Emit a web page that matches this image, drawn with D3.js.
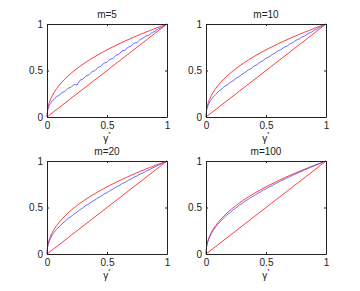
<!DOCTYPE html>
<html>
<head>
<meta charset="utf-8">
<script src="https://cdn.jsdelivr.net/npm/d3@7"></script>
<style>
  body { margin: 0; background: #fff; }
  svg text { font-family: "Liberation Sans", Arial, sans-serif; fill: #222; }
</style>
</head>
<body>
<div id="chart"></div>
<script>
// gamma* sample points (shared x grid)
const gammaGrid = [0, 0.005, 0.01, 0.02, 0.03, 0.045, 0.06, 0.08,
  0.1, 0.125, 0.15, 0.175, 0.2, 0.225, 0.25, 0.275, 0.3, 0.325, 0.35, 0.375,
  0.4, 0.425, 0.45, 0.475, 0.5, 0.525, 0.55, 0.575, 0.6, 0.625, 0.65, 0.675,
  0.7, 0.725, 0.75, 0.775, 0.8, 0.825, 0.85, 0.875, 0.9, 0.925, 0.95, 0.975, 1];

// upper red bound (same in every panel)
const upperBound = [0, 0.083, 0.115, 0.159, 0.192, 0.233, 0.267, 0.305,
  0.339, 0.376, 0.41, 0.441, 0.469, 0.496, 0.521, 0.545, 0.568, 0.59, 0.611, 0.631,
  0.65, 0.669, 0.687, 0.705, 0.722, 0.739, 0.755, 0.771, 0.787, 0.802, 0.817, 0.831,
  0.846, 0.86, 0.874, 0.887, 0.9, 0.914, 0.926, 0.939, 0.952, 0.964, 0.976, 0.988, 1];

// lower red bound (diagonal)
const lowerX = [0, 1];
const lowerY = [0, 1];

// blue curves, one per panel
const curveM5 = [0, 0.067, 0.09, 0.128, 0.144, 0.178, 0.19, 0.22,
  0.232, 0.262, 0.276, 0.31, 0.318, 0.352, 0.343, 0.395, 0.408, 0.441, 0.455, 0.488,
  0.498, 0.534, 0.546, 0.58, 0.588, 0.622, 0.628, 0.665, 0.675, 0.712, 0.718, 0.75,
  0.762, 0.794, 0.8, 0.832, 0.848, 0.87, 0.88, 0.909, 0.92, 0.948, 0.958, 0.982, 1];
const curveM10 = [0, 0.071, 0.1, 0.132, 0.162, 0.19, 0.218, 0.24,
  0.27, 0.294, 0.325, 0.343, 0.37, 0.388, 0.416, 0.434, 0.46, 0.478, 0.505, 0.52,
  0.548, 0.563, 0.59, 0.606, 0.632, 0.646, 0.672, 0.686, 0.712, 0.725, 0.75, 0.762,
  0.788, 0.8, 0.825, 0.838, 0.861, 0.874, 0.897, 0.91, 0.932, 0.946, 0.967, 0.982, 1];
const curveM20 = [0, 0.075, 0.104, 0.143, 0.17, 0.206, 0.233, 0.266,
  0.29, 0.325, 0.351, 0.382, 0.403, 0.43, 0.451, 0.477, 0.497, 0.523, 0.539, 0.564,
  0.581, 0.605, 0.621, 0.645, 0.66, 0.683, 0.698, 0.72, 0.735, 0.756, 0.77, 0.791,
  0.805, 0.826, 0.839, 0.859, 0.871, 0.891, 0.904, 0.923, 0.937, 0.954, 0.968, 0.985, 1];
const curveM100 = [0, 0.079, 0.11, 0.151, 0.182, 0.221, 0.252, 0.288,
  0.319, 0.357, 0.388, 0.421, 0.444, 0.473, 0.496, 0.522, 0.543, 0.567, 0.587, 0.609,
  0.627, 0.648, 0.665, 0.685, 0.701, 0.721, 0.736, 0.754, 0.769, 0.787, 0.801, 0.818,
  0.832, 0.849, 0.862, 0.878, 0.89, 0.907, 0.918, 0.934, 0.946, 0.961, 0.973, 0.988, 1];

const panelTitles = ["m=5", "m=10", "m=20", "m=100"];
const panelCurves = [curveM5, curveM10, curveM20, curveM100];
const tickValues = [0, 0.5, 1];
const tickLabels = ["0", "0.5", "1"];

const width = 360, height = 291;
// plot area positions (left, top) for each panel
const origins = [[47, 24], [206, 24], [47, 161], [206, 161]];
const pw = 120, ph = 93;

const svg = d3.select("#chart").append("svg")
  .attr("width", width)
  .attr("height", height);

panelTitles.forEach((title, i) => {
  const [ox, oy] = origins[i];
  const g = svg.append("g").attr("transform", `translate(${ox},${oy})`);

  const x = d3.scaleLinear().domain([0, 1]).range([0, pw]);
  const y = d3.scaleLinear().domain([0, 1]).range([ph, 0]);

  const line = d3.line().x(d => x(d[0])).y(d => y(d[1]));

  // lines
  g.append("path")
    .datum(lowerX.map((v, k) => [v, lowerY[k]]))
    .attr("d", line)
    .attr("fill", "none")
    .attr("stroke", "#ff4040")
    .attr("stroke-width", 1);

  g.append("path")
    .datum(gammaGrid.map((v, k) => [v, upperBound[k]]))
    .attr("d", line)
    .attr("fill", "none")
    .attr("stroke", "#ff4040")
    .attr("stroke-width", 1);

  g.append("path")
    .datum(gammaGrid.map((v, k) => [v, panelCurves[i][k]]))
    .attr("d", line)
    .attr("fill", "none")
    .attr("stroke", "#4a4aff")
    .attr("stroke-width", 0.8);

  // axes box with inward ticks (MATLAB style)
  const fmt = (d) => tickLabels[tickValues.indexOf(d)];
  const bottom = g.append("g").attr("transform", `translate(0,${ph})`)
    .call(d3.axisBottom(x).tickValues(tickValues).tickSizeInner(-2).tickSizeOuter(0).tickPadding(5).tickFormat(fmt));
  const left = g.append("g")
    .call(d3.axisLeft(y).tickValues(tickValues).tickSizeInner(-2).tickSizeOuter(0).tickPadding(4).tickFormat(fmt));
  const top = g.append("g")
    .call(d3.axisTop(x).tickValues(tickValues).tickSizeInner(-2).tickSizeOuter(0).tickFormat(""));
  const right = g.append("g").attr("transform", `translate(${pw},0)`)
    .call(d3.axisRight(y).tickValues(tickValues).tickSizeInner(-2).tickSizeOuter(0).tickFormat(""));

  [bottom, left, top, right].forEach(a => {
    a.selectAll(".domain").attr("stroke", "#222");
    a.selectAll(".tick line").attr("stroke", "#222");
    a.selectAll("text").attr("font-size", 10).attr("fill", "#222")
      .attr("font-family", "Liberation Sans, Arial, sans-serif");
  });

  // title
  g.append("text")
    .attr("x", pw / 2)
    .attr("y", -6)
    .attr("text-anchor", "middle")
    .attr("font-size", 10)
    .text(title);

  // x label gamma*
  const lab = g.append("text")
    .attr("x", pw / 2)
    .attr("y", ph + 25)
    .attr("text-anchor", "middle")
    .attr("font-size", 10);
  lab.append("tspan").text("γ");
  lab.append("tspan").attr("font-size", 6).attr("dy", -6).text("*");
});
</script>
</body>
</html>
